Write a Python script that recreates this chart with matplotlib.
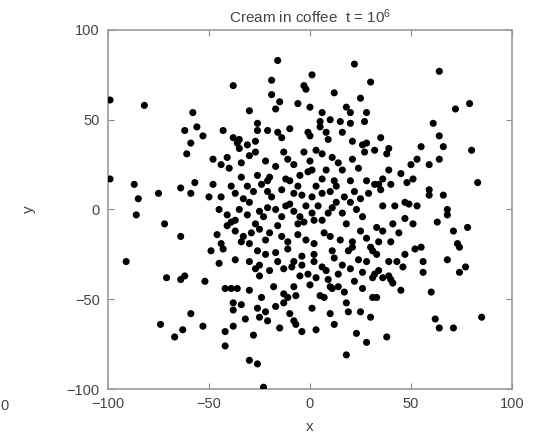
from matplotlib import pyplot as plt

# particle positions (x, y)
x = [-16, 22, 64, 1, -19, -3, -2, 30, -38, -19, 12, -6, -17, 6, 18, 20, 28, 27, 5, 10,
     15, 20, -26, -26, -21, -16, -14, -1, 0, 5, 8, 9, 16, 21, 28, -27, -35, -31,
     -99, -82, -58, -56, -62, -53, -59, -43, -38, -36,
     79, 72, 61, 64, 39, 55, 66, 80,
     38, 53, 50, 59, 64, 39, 36, 34, 35, 40, 51, 83, 59, 59, 66, 36, 42, 47, 49, 53,
     68, 68, 47, 51, 41, 63, 78, 71, 33, 36, 44, 40, 34, 73, 74, 52, 55, 47, 68, 56,
     33, 39, 43, 77,
     34, 36, 39, 40, 41, 46, 56, 74, 33, 60, 62, 64, 71, 85, 38,
     -61, -99, -87, -85, -75, -64, -57, -59, -86, -72, -64, -91, -50, -44,
     -48, -44, -41, -40, -39, -37, -49, -44, -43, -46, -41, -39, -41, -37, -37,
     -71, -64, -62, -42, -36, -39, -38, -38, -59, -74, -63, -67, -53, -42, -38, -42, -23,
     -27, -25, -13, -9, -1, 3, 8, 9, -8, -13, -11, -7, 5, 7, 10, 11, 14, 22, 26, 31, 32,
     31, -34, -26, -22, -17, -13, -25, -32, -21, -10, -8, -7, -4, 3, 18, 19, 25, 23, 28,
     18, -30, -26,
     -35, -27, -13, -11, -3, 6, 11, 14, 21, 27, 32, 26, -34, -34, -26, -31, -20, -21,
     -12, -10, -5, -1, 1, 8, 6, 12, 13, 20, 22, 28, 32, -33, -30, -21, -19, -8, -4, 1,
     6, -12, -10, -2, 1, -25, -21, -23, 9, 11, 13, 23, 26, -37, -27, -25, -16, -6, -3,
     2, 7, -33, -20, -11, 15, 21, 21, 2, 30, -34, -30, -26, -22, -17, -11, -4, 2, 11,
     19, -30, -25, -16, -8, -4, 2, 6, 12, 16, 24, 28, 31,
     -30, -22, -17, -8, 0, 3, 16, 24, -28, -24, -14, -6, 3, 10, 17, 20, 25, 29,
     -35, -31, -17, -14, -8, -5, 4, 6, 16, 18, -29, -22, -14, -6, -2, 10, 25, 28,
     -20, -5, 14, 20, 26, -18, 0, 17, -30, -24, 1, 10, -15, 12, -28, 35, -10, -30,
     0, 25, -45, -52, 45, 48, -48, 45, -45, 30, -15]
y = [83, 81, 77, 75, 72, 69, 67, 71, 69, 64, 65, 59, 56, 54, 57, 54, 54, 49, 49, 50,
     49, 48, 48, 44, 44, 43, 40, 43, 41, 46, 43, 39, 43, 38, 37, 38, 39, 36,
     61, 58, 54, 46, 44, 41, 37, 44, 40, 37,
     59, 56, 48, 41, 34, 35, 35, 33,
     31, 28, 25, 25, 28, 22, 17, 14, 11, 14, 17, 15, 11, 8, 8, 2, 2, 4, 3, 2,
     0, -3, -5, -8, -8, -7, -10, -12, -10, -12, -13, -18, -18, -19, -21, -22, -21, -25, -28, -29,
     -25, -29, -29, -32,
     -34, -38, -37, -39, -41, -32, -35, -35, -49, -46, -61, -66, -66, -60, -71,
     31, 17, 14, 6, 9, 12, 15, 9, -3, -8, -15, -29, 7, 7,
     28, 25, 29, 23, 13, 9, -23, -19, -22, -14, -3, -7, -9, -12, -28,
     -38, -39, -37, -44, -44, -44, -52, -56, -58, -64, -67, -71, -65, -68, -65, -76, -99,
     -33, -37, -33, -32, -36, -38, -34, -39, -43, -47, -49, -48, -48, -49, -43, -44, -43, -40, -44, -38, -36,
     -49, -53, -55, -57, -54, -52, -60, -61, -62, -58, -62, -64, -68, -67, -52, -57, -57, -69, -74,
     -81, -84, -86,
     34, 32, 32, 28, 32, 31, 29, 26, 28, 32, 33, 36, 18, 26, 19, 13, 18, 16,
     17, 16, 19, 21, 22, 22, 17, 16, 13, 16, 10, 16, 14, 6, 4, 10, 7, 9, 8, 7,
     9, 2, 3, 2, -2, -1, 1, -4, -2, 1, 4, 0, -4, -6, -8, -11, -9, -8, -7,
     -6, -13, -15, -13, -18, -17, -18, -21, -19, -21, -18, -19, -23, -25, -24, -22, -26, -25, -23,
     -23, -29, -31, -29, -29, -31, -29, -32, -27, -31, -28, -29, -23,
     30, 27, 24, 25, 27, 33, 22, 23, 10, 14, 11, 13, 13, 10, 7, 4, 6, 9,
     0, -3, 0, -4, -1, -4, 2, -6, -2, -8, -13, -17, -15, -14, -17, -15, -12, -16,
     -34, -37, -36, -33, -35, -43, -42, -46, -45, -49, -55, -58, -66, -64, -70, 40, 45, 55,
     57, 62, 0, -40, -45, 15, 14, 20, -30, -60, 60]

title_main = 'Cream in coffee  t = $10^6$'
ticks = [-100, -50, 0, 50, 100]

plt.rcParams['font.family'] = ['Liberation Sans', 'DejaVu Sans']
plt.rcParams['mathtext.fontset'] = 'custom'
plt.rcParams['mathtext.rm'] = 'Liberation Sans'
plt.rcParams['mathtext.it'] = 'Liberation Sans'

fig = plt.figure(figsize=(5.33, 4.37), dpi=100)
ax = fig.add_axes([0.2026, 0.1098, 0.7580, 0.8216])

ax.scatter(x, y, s=26, color='black', edgecolors='none', zorder=3)

ax.set_xlim(-100, 100)
ax.set_ylim(-100, 100)
ax.set_xticks(ticks)
ax.set_yticks(ticks)
ax.tick_params(direction='in', length=4, width=0.8, colors='#888888',
               labelcolor='#444444', labelsize=10.5, top=True, right=True, pad=6)
for s in ax.spines.values():
    s.set_color('#999999')
    s.set_linewidth(1.2)

ax.set_title(title_main, fontsize=11, color='#444444', pad=5)
ax.set_xlabel('x', fontsize=11, color='#444444', labelpad=6)
ax.set_ylabel('y', fontsize=11, color='#444444', labelpad=22)

# label left over from the neighbouring panel
fig.text(0.0, 1 - 410 / 437, '0', fontsize=10.5, color='#444444')

fig.savefig('out.png', dpi=100)
